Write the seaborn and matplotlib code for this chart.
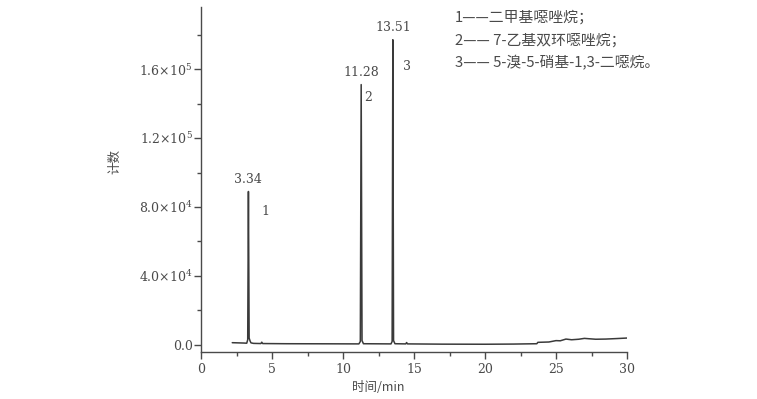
import matplotlib
matplotlib.use("Agg")
import matplotlib.pyplot as plt
import seaborn as sns
import pandas as pd
from matplotlib.ticker import MultipleLocator, FixedLocator, FixedFormatter

# ---- data ----
time_min = [2.2, 3.0, 3.22, 3.29, 3.34, 3.39, 3.46, 3.52, 3.7, 4.22, 4.28, 4.34, 6.0, 9.0,
            11.12, 11.22, 11.28, 11.34, 11.44, 13.38, 13.46, 13.51, 13.56, 13.66,
            14.42, 14.48, 14.54, 17.0, 20.0, 22.0, 23.65, 23.72, 24.5, 25.0, 25.3,
            25.7, 26.1, 26.6, 27.0, 27.3, 27.8, 28.5, 29.3, 30.0]
counts = [1300, 1100, 1000, 3000, 89000, 4000, 2200, 1200, 900, 800, 1600, 800, 700, 650,
          600, 2000, 151000, 2500, 700, 600, 2000, 177000, 2500, 700,
          600, 1400, 600, 450, 400, 500, 700, 1500, 1700, 2500, 2400,
          3400, 3000, 3300, 3800, 3600, 3300, 3400, 3700, 4000]

peak_times = [3.34, 11.28, 13.51]
peak_labels = ["3.34", "11.28", "13.51"]
peak_numbers = ["1", "2", "3"]
peak_heights = [89000, 151000, 177000]

legend_lines = ["1——二甲基噁唑烷；", "2—— 7-乙基双环噁唑烷；", "3—— 5-溴-5-硝基-1,3-二噁烷。"]

x_ticks = [0, 5, 10, 15, 20, 25, 30]
y_ticks = [0, 40000, 80000, 120000, 160000]
y_tick_labels = ["0.0", r"4.0×10$^4$", r"8.0×10$^4$", r"1.2×10$^5$", r"1.6×10$^5$"]

x_label = "时间/min"
y_label = "计数"

# ---- plotting ----
sns.set_theme(style="ticks")
plt.rcParams["font.family"] = ["DejaVu Serif", "Noto Sans CJK SC"]
plt.rcParams["mathtext.fontset"] = "dejavuserif"

ink = "#4a4a4a"
fig = plt.figure(figsize=(7.57, 3.99), dpi=100)
fig.patch.set_facecolor("white")
ax = fig.add_axes([201 / 757, 47 / 399, 426 / 757, 345 / 399])
ax.set_facecolor("white")

df = pd.DataFrame({"t": time_min, "c": counts})
sns.lineplot(data=df, x="t", y="c", ax=ax, color="#3a3a3a", linewidth=1.1,
             estimator=None, sort=False)

ax.set_xlim(0, 30)
ax.set_ylim(-4100, 196000)

for s in ["top", "right"]:
    ax.spines[s].set_visible(False)
for s in ["left", "bottom"]:
    ax.spines[s].set_color(ink)
    ax.spines[s].set_linewidth(1.0)

ax.xaxis.set_major_locator(FixedLocator(x_ticks))
ax.xaxis.set_minor_locator(MultipleLocator(2.5))
ax.yaxis.set_major_locator(FixedLocator(y_ticks))
ax.yaxis.set_major_formatter(FixedFormatter(y_tick_labels))
ax.yaxis.set_minor_locator(MultipleLocator(20000))
ax.tick_params(axis="both", which="major", direction="out", length=5, width=1,
               color=ink, labelcolor=ink, labelsize=9)
ax.tick_params(axis="both", which="minor", direction="out", length=3, width=1, color=ink)
ax.tick_params(axis="x", pad=3)
ax.tick_params(axis="y", pad=1)

ax.set_xlabel(x_label, family=["Noto Sans CJK SC", "DejaVu Serif"], fontsize=9,
              color=ink)
ax.set_ylabel(y_label, family=["Noto Sans CJK SC", "DejaVu Serif"], fontsize=9,
              color=ink)
ax.xaxis.set_label_coords((378 - 201) / 426, (352 - 381) / 345)
ax.yaxis.set_label_coords((121 - 201) / 426, (352 - 162) / 345)

number_offsets = [(12, -14.5), (5, -9.5), (10, -19)]
for t, lab, num, h, off in zip(peak_times, peak_labels, peak_numbers, peak_heights,
                               number_offsets):
    ax.annotate(lab, xy=(t, h), xytext=(0, 4), textcoords="offset points",
                ha="center", va="bottom", fontsize=9, color=ink)
    ax.annotate(num, xy=(t, h), xytext=off, textcoords="offset points",
                ha="center", va="center", fontsize=9, color=ink)

for i, line in enumerate(legend_lines):
    fig.text(455 / 757, 1 - (17 + 23 * i) / 399, line,
             family=["Noto Sans CJK SC", "DejaVu Serif"], fontsize=10.7, color=ink,
             ha="left", va="center")

fig.savefig("out.png", dpi=100, facecolor="white")
